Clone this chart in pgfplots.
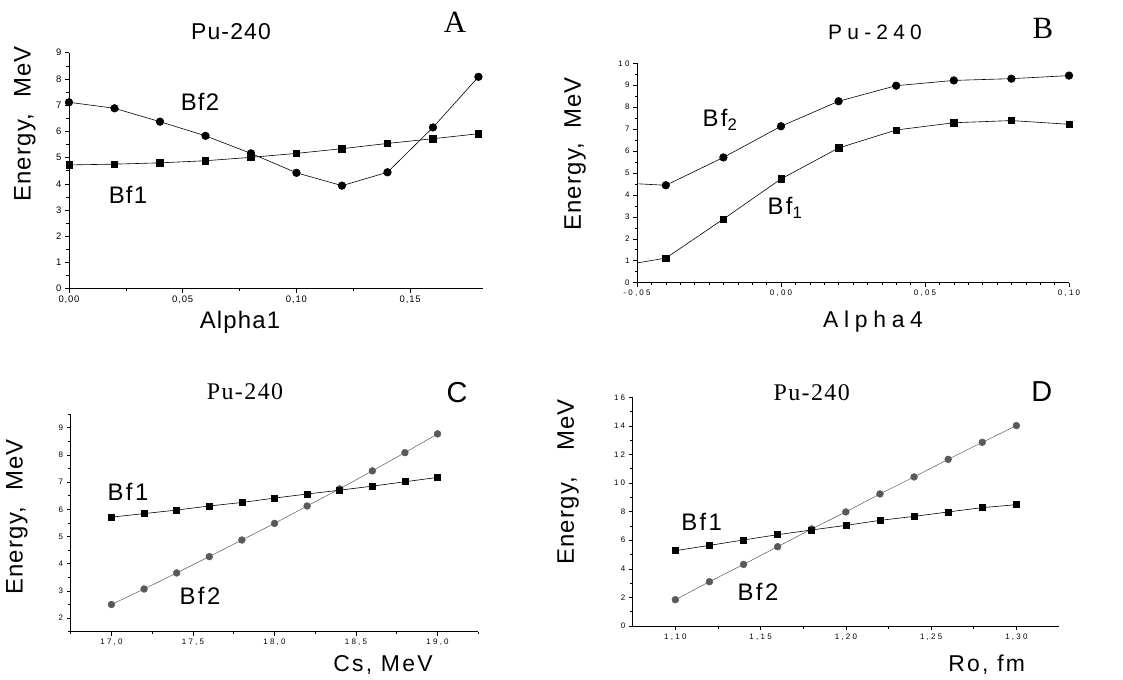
\documentclass[border=0pt]{standalone}
\usepackage{fontspec}
\setmainfont{Liberation Sans}
\newfontfamily\serif{Liberation Serif}
\newfontfamily\lsA[LetterSpace=5]{Liberation Sans}
\newfontfamily\lsB[LetterSpace=10]{Liberation Sans}
\newfontfamily\lsC[LetterSpace=25]{Liberation Sans}
\newfontfamily\tickA[LetterSpace=9]{Liberation Sans}
\newfontfamily\tickB[LetterSpace=28]{Liberation Sans}
\newfontfamily\spacedserif[LetterSpace=6]{Liberation Serif}
\usepackage{pgfplots}
\pgfplotsset{compat=1.18}
\pgfplotsset{
  base/.style={scale only axis, axis lines=left,
    axis line style={-, line width=0.7pt},
    tick align=outside, major tick length=4bp, minor tick length=2.5bp,
    every tick/.style={black, line width=0.6pt},
    /pgf/number format/assume math mode=true,
    /pgf/number format/use comma,
    clip=false},
  s1/.style={black, line width=0.6pt, mark=square*, mark size=3.2bp, mark options={solid, fill=black}},
  s2/.style={black, line width=0.6pt, mark=*, mark size=3.8bp, mark options={solid, fill=black}},
  s1c/.style={black, line width=0.6pt, mark=square*, mark size=3bp, mark options={solid, fill=black}},
  s2g/.style={black!65, line width=0.5pt, mark=*, mark size=3.4bp, mark options={solid, fill=black!65, draw=black!65}},
}
\newcommand{\fs}[1]{\fontsize{#1}{#1}\selectfont}
\begin{document}
\begin{tikzpicture}
\path[use as bounding box] (0,0) rectangle (1123bp,-680bp);

% ---------------- A ----------------
\begin{axis}[base, at={(69bp,-288.7bp)}, anchor=south west,
  width=414bp, height=236bp,
  xmin=0, xmax=0.182, ymin=0, ymax=9,
  xtick={0,0.05,0.10,0.15}, minor x tick num=1,
  ytick={0,1,...,9}, minor y tick num=1,
  tick label style={font=\tickA\fs{9.5}},
  xticklabel style={/pgf/number format/.cd, fixed, fixed zerofill, precision=2}]
\addplot[s1] coordinates {(0,4.72) (0.02,4.75) (0.04,4.80) (0.06,4.88) (0.08,5.01) (0.10,5.16) (0.12,5.34) (0.14,5.54) (0.16,5.72) (0.18,5.91)};
\addplot[s2] coordinates {(0,7.11) (0.02,6.88) (0.04,6.37) (0.06,5.83) (0.08,5.16) (0.10,4.42) (0.12,3.93) (0.14,4.44) (0.16,6.15) (0.18,8.08)};
\end{axis}
\node[font=\lsA\fs{23}] at (231bp,-32bp) {Pu-240};
\node[font=\serif\fs{31}] at (455bp,-22bp) {A};
\node[font=\lsA\fs{24}, rotate=90] at (25bp,-124bp) {Energy,\hspace{16bp}MeV};
\node[font=\lsA\fs{24}] at (240bp,-322bp) {Alpha1};
\node[font=\lsA\fs{24}] at (200bp,-102bp) {Bf2};
\node[font=\lsA\fs{24}] at (128bp,-195bp) {Bf1};

% ---------------- B ----------------
\begin{axis}[base, at={(637bp,-282.7bp)}, anchor=south west,
  width=432bp, height=219.4bp,
  xmin=-0.05, xmax=0.10, ymin=0, ymax=10,
  xtick={-0.05,0,0.05,0.10}, minor x tick num=9,
  ytick={0,1,...,10}, minor y tick num=1,
  tick label style={font=\tickB\fs{8}},
  xticklabel style={/pgf/number format/.cd, fixed, fixed zerofill, precision=2}]
\addplot[s1, mark indices={2,3,4,5,6,7,8,9}] coordinates {(-0.05,0.90) (-0.04,1.12) (-0.02,2.90) (0,4.73) (0.02,6.14) (0.04,6.96) (0.06,7.29) (0.08,7.39) (0.10,7.22)};
\addplot[s2, mark indices={2,3,4,5,6,7,8,9}] coordinates {(-0.05,4.51) (-0.04,4.44) (-0.02,5.71) (0,7.13) (0.02,8.27) (0.04,8.98) (0.06,9.22) (0.08,9.30) (0.10,9.44)};
\end{axis}
\node[font=\lsC\fs{21}] at (875bp,-32bp) {Pu-240};
\node[font=\serif\fs{31}] at (1043bp,-28bp) {B};
\node[font=\lsA\fs{24}, rotate=90] at (575bp,-154bp) {Energy,\hspace{14bp}MeV};
\node[font=\lsC\fs{23}] at (873bp,-322bp) {Alpha4};
\node[font=\lsB\fs{24}] at (720bp,-120bp) {Bf\textsubscript{2}};
\node[font=\lsB\fs{24}] at (785bp,-208bp) {Bf\textsubscript{1}};

% ---------------- C ----------------
\begin{axis}[base, at={(70.7bp,-631.7bp)}, anchor=south west,
  width=407.6bp, height=217.7bp,
  xmin=16.75, xmax=19.25, ymin=1.5, ymax=9.5,
  xtick={17,17.5,18,18.5,19}, minor xtick={16.75,17.25,17.75,18.25,18.75,19.25},
  ytick={2,3,...,9}, minor ytick={1.5,2.5,...,9.5},
  tick label style={font=\tickB\fs{8}},
  xticklabel style={/pgf/number format/.cd, fixed, fixed zerofill, precision=1}]
\addplot[s2g] coordinates {(17.0,2.50) (17.2,3.07) (17.4,3.66) (17.6,4.26) (17.8,4.87) (18.0,5.48) (18.2,6.12) (18.4,6.75) (18.6,7.41) (18.8,8.08) (19.0,8.77)};
\addplot[s1c] coordinates {(17.0,5.71) (17.2,5.84) (17.4,5.97) (17.6,6.12) (17.8,6.25) (18.0,6.41) (18.2,6.56) (18.4,6.70) (18.6,6.85) (18.8,7.01) (19.0,7.17)};
\end{axis}
\node[font=\spacedserif\fs{24}] at (245bp,-392bp) {Pu-240};
\node[font=\fs{29}] at (457bp,-393bp) {C};
\node[font=\lsA\fs{24}, rotate=90] at (17bp,-517bp) {Energy,\hspace{16bp}MeV};
\node[font=\lsB\fs{23}] at (383bp,-665bp) {Cs, MeV};
\node[font=\lsB\fs{24}] at (128bp,-492bp) {Bf1};
\node[font=\lsB\fs{24}] at (200bp,-596bp) {Bf2};

% ---------------- D ----------------
\begin{axis}[base, at={(632.7bp,-626bp)}, anchor=south west,
  width=426.3bp, height=228.7bp,
  xmin=1.075, xmax=1.325, ymin=0, ymax=16,
  xtick={1.10,1.15,1.20,1.25,1.30}, minor x tick num=1,
  ytick={0,2,...,16}, minor y tick num=1,
  tick label style={font=\tickB\fs{8}},
  xticklabel style={/pgf/number format/.cd, fixed, fixed zerofill, precision=2}]
\addplot[s2g] coordinates {(1.10,1.84) (1.12,3.10) (1.14,4.31) (1.16,5.55) (1.18,6.79) (1.20,7.98) (1.22,9.24) (1.24,10.43) (1.26,11.66) (1.28,12.85) (1.30,14.02)};
\addplot[s1c] coordinates {(1.10,5.27) (1.12,5.64) (1.14,6.02) (1.16,6.39) (1.18,6.72) (1.20,7.04) (1.22,7.39) (1.24,7.67) (1.26,7.98) (1.28,8.28) (1.30,8.49)};
\end{axis}
\node[font=\spacedserif\fs{24}] at (811.7bp,-392.7bp) {Pu-240};
\node[font=\fs{29}] at (1041.7bp,-391.7bp) {D};
\node[font=\lsA\fs{24}, rotate=90] at (568bp,-482bp) {Energy,\hspace{26bp}MeV};
\node[font=\lsB\fs{23}] at (986.7bp,-665bp) {Ro, fm};
\node[font=\lsB\fs{24}] at (701.7bp,-521.7bp) {Bf1};
\node[font=\lsB\fs{24}] at (758bp,-591.7bp) {Bf2};
\end{tikzpicture}
\end{document}
